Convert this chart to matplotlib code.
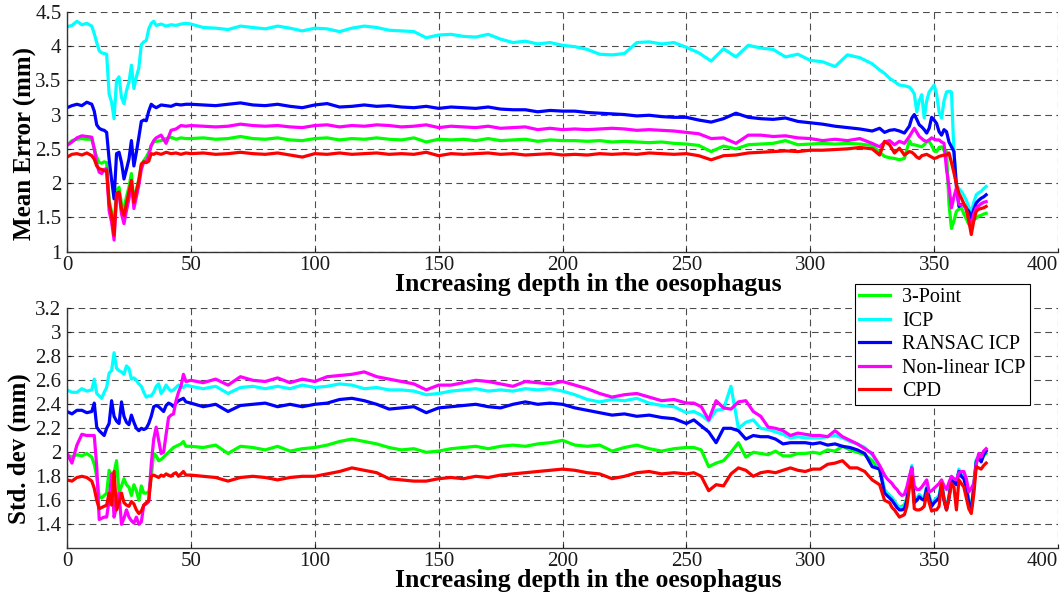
import matplotlib
matplotlib.use("Agg")
import matplotlib.pyplot as plt
from matplotlib.ticker import FuncFormatter
import numpy as np

plt.rcParams["font.family"] = ["Liberation Serif", "DejaVu Serif"]

labels = ["3-Point", "ICP", "RANSAC ICP", "Non-linear ICP", "CPD"]
colors = ["#00ff00", "#00ffff", "#0000ff", "#ff00ff", "#ff0000"]

# ---- top panel: mean error ----
depth_top = [0, 2, 4, 6, 8, 10, 11, 12, 13, 14, 15, 16, 17, 18, 19, 20, 21, 22, 23, 24, 25, 26, 27, 28, 29,
             30, 31, 32, 33, 34, 35, 36, 38, 40, 42, 44, 46, 48,
             50, 55, 60, 65, 70, 75, 80, 85, 90, 95, 100, 105, 110, 115, 120, 125, 130, 135, 140, 145, 150,
             155, 160, 165, 170, 175, 180, 185, 190, 195, 200, 205, 210, 215, 220, 225, 230, 235, 240, 245,
             250, 255, 260, 265, 270, 275, 280, 285, 290, 295, 300, 305, 310, 315, 320, 325,
             328, 330, 332, 334, 336, 338, 340, 341, 342, 343, 344, 345, 346, 347, 348, 349, 350, 351, 352,
             353, 354, 355, 356, 357, 358, 359, 360, 361, 362, 363, 364, 365, 366, 367, 368, 369, 370, 371]

mean_3pt = [2.55, 2.62, 2.64, 2.65, 2.64, 2.64, 2.50, 2.38, 2.30, 2.29, 2.31, 2.30, 1.75, 1.58, 1.38, 1.90, 1.94, 1.70, 1.63, 1.80, 1.94, 2.14, 1.72, 1.90, 2.06,
            2.25, 2.33, 2.38, 2.45, 2.55, 2.60, 2.61, 2.62, 2.65, 2.67, 2.64, 2.66, 2.65,
            2.65, 2.66, 2.64, 2.65, 2.68, 2.65, 2.64, 2.66, 2.63, 2.62, 2.65, 2.66, 2.63, 2.65, 2.64, 2.66, 2.64, 2.63, 2.66, 2.60, 2.64,
            2.63, 2.64, 2.62, 2.65, 2.62, 2.63, 2.64, 2.61, 2.63, 2.62, 2.62, 2.61, 2.62, 2.60, 2.61, 2.60, 2.59, 2.60, 2.58,
            2.57, 2.55, 2.46, 2.54, 2.50, 2.56, 2.57, 2.58, 2.62, 2.56, 2.57, 2.58, 2.57, 2.58, 2.57, 2.55,
            2.45, 2.39, 2.37, 2.36, 2.34, 2.36, 2.62, 2.56, 2.56, 2.55, 2.54, 2.53, 2.56, 2.60, 2.61, 2.55, 2.47, 2.46, 2.52,
            2.53, 2.48, 2.46, 1.69, 1.34, 1.45, 1.59, 1.62, 1.64, 1.55, 1.48, 1.40, 1.42, 1.46, 1.49, 1.52, 1.53, 1.55, 1.56]

mean_icp = [4.28, 4.30, 4.36, 4.31, 4.33, 4.29, 4.18, 4.05, 3.93, 3.90, 3.89, 3.88, 3.30, 3.18, 2.94, 3.50, 3.55, 3.25, 3.16, 3.35, 3.47, 3.72, 3.38, 3.55, 3.68,
            4.02, 4.06, 4.08, 4.25, 4.33, 4.36, 4.30, 4.32, 4.29, 4.31, 4.30, 4.32, 4.33,
            4.32, 4.27, 4.26, 4.24, 4.29, 4.27, 4.25, 4.29, 4.26, 4.22, 4.26, 4.25, 4.21, 4.26, 4.29, 4.27, 4.23, 4.22, 4.21, 4.12, 4.16,
            4.17, 4.14, 4.13, 4.17, 4.10, 4.05, 4.07, 4.03, 4.05, 4.01, 3.99, 3.95, 3.88, 3.87, 3.89, 4.05, 4.06, 4.03, 4.05,
            3.98, 3.90, 3.78, 3.96, 3.84, 4.01, 3.97, 3.95, 3.84, 3.88, 3.79, 3.77, 3.70, 3.87, 3.83, 3.74,
            3.65, 3.60, 3.53, 3.48, 3.43, 3.42, 3.40, 3.36, 3.30, 3.04, 3.20, 3.29, 2.95, 3.20, 3.33, 3.38, 3.43, 3.30, 3.04,
            2.95, 3.20, 3.33, 3.34, 3.33, 2.45, 1.98, 1.92, 1.88, 1.82, 1.75, 1.65, 1.59, 1.72, 1.83, 1.86, 1.88, 1.92, 1.95]

mean_ransac = [3.10, 3.13, 3.15, 3.13, 3.18, 3.15, 3.05, 2.85, 2.80, 2.78, 2.77, 2.74, 2.35, 2.05, 1.77, 2.43, 2.45, 2.30, 2.06, 2.20, 2.35, 2.62, 2.25, 2.45, 2.67,
               2.90, 2.92, 2.91, 3.05, 3.15, 3.12, 3.10, 3.14, 3.13, 3.12, 3.15, 3.14, 3.15,
               3.15, 3.14, 3.13, 3.15, 3.17, 3.14, 3.13, 3.15, 3.12, 3.10, 3.14, 3.16, 3.11, 3.12, 3.14, 3.12, 3.13, 3.11, 3.10, 3.12, 3.09,
               3.11, 3.10, 3.09, 3.11, 3.08, 3.07, 3.07, 3.04, 3.06, 3.05, 3.05, 3.03, 3.02, 3.01, 3.00, 2.98, 2.99, 2.97, 2.96,
               2.96, 2.92, 2.89, 2.94, 3.02, 2.96, 2.94, 2.93, 2.95, 2.90, 2.88, 2.86, 2.83, 2.81, 2.79, 2.76,
               2.80, 2.74, 2.77, 2.78, 2.76, 2.73, 2.83, 2.95, 3.00, 2.93, 2.85, 2.82, 2.78, 2.73, 2.80, 2.96, 2.92, 2.87, 2.75,
               2.70, 2.78, 2.75, 2.60, 2.53, 2.46, 1.95, 1.66, 1.69, 1.68, 1.63, 1.59, 1.49, 1.62, 1.71, 1.75, 1.78, 1.80, 1.83]

mean_nonlin = [2.55, 2.60, 2.66, 2.69, 2.68, 2.67, 2.50, 2.28, 2.16, 2.14, 2.20, 2.21, 1.60, 1.43, 1.17, 1.80, 1.85, 1.55, 1.41, 1.60, 1.77, 2.01, 1.63, 1.80, 1.97,
               2.20, 2.31, 2.30, 2.40, 2.55, 2.62, 2.66, 2.70, 2.58, 2.77, 2.79, 2.84, 2.83,
               2.84, 2.83, 2.82, 2.83, 2.86, 2.84, 2.83, 2.84, 2.82, 2.81, 2.84, 2.85, 2.82, 2.84, 2.83, 2.85, 2.84, 2.82, 2.83, 2.85, 2.81,
               2.83, 2.82, 2.81, 2.83, 2.80, 2.81, 2.82, 2.78, 2.80, 2.78, 2.79, 2.78, 2.79, 2.80, 2.79, 2.77, 2.78, 2.77, 2.76,
               2.74, 2.72, 2.65, 2.66, 2.58, 2.70, 2.70, 2.68, 2.69, 2.66, 2.65, 2.62, 2.64, 2.62, 2.65, 2.58,
               2.53, 2.60, 2.62, 2.56, 2.61, 2.58, 2.68, 2.74, 2.80, 2.74, 2.68, 2.65, 2.62, 2.61, 2.63, 2.66, 2.64, 2.63, 2.63,
               2.60, 2.58, 2.20, 1.95, 1.64, 1.80, 1.93, 1.69, 1.68, 1.69, 1.60, 1.48, 1.40, 1.55, 1.64, 1.67, 1.70, 1.72, 1.73]

mean_cpd = [2.38, 2.42, 2.43, 2.41, 2.44, 2.40, 2.35, 2.25, 2.21, 2.20, 2.18, 2.19, 1.70, 1.53, 1.24, 1.85, 1.87, 1.62, 1.53, 1.70, 1.87, 2.04, 1.72, 1.88, 2.04,
            2.28, 2.31, 2.30, 2.32, 2.43, 2.42, 2.44, 2.42, 2.45, 2.43, 2.44, 2.42, 2.44,
            2.43, 2.44, 2.42, 2.43, 2.45, 2.43, 2.42, 2.44, 2.41, 2.38, 2.43, 2.42, 2.44, 2.42, 2.43, 2.44, 2.42, 2.43, 2.42, 2.45, 2.40,
            2.43, 2.42, 2.43, 2.44, 2.42, 2.43, 2.41, 2.42, 2.43, 2.41, 2.42, 2.41, 2.43, 2.42, 2.43, 2.42, 2.44, 2.43, 2.42,
            2.43, 2.40, 2.34, 2.40, 2.41, 2.44, 2.45, 2.46, 2.47, 2.46, 2.48, 2.48, 2.49, 2.50, 2.52, 2.50,
            2.41, 2.61, 2.56, 2.44, 2.51, 2.41, 2.46, 2.45, 2.42, 2.38, 2.36, 2.40, 2.41, 2.42, 2.40, 2.38, 2.36, 2.37, 2.39,
            2.40, 2.41, 2.41, 2.44, 2.30, 2.15, 1.98, 1.85, 1.78, 1.70, 1.64, 1.45, 1.25, 1.45, 1.59, 1.62, 1.63, 1.64, 1.66]

# ---- bottom panel: std dev ----
depth_bot = [0, 2, 4, 6, 8, 10, 11, 12, 13, 14, 15, 16, 17, 18, 19, 20, 21, 22, 23, 24, 25, 26, 27, 28, 29,
             30, 31, 32, 33, 34, 35, 36, 37, 38, 39, 40, 41, 42, 43, 44, 45, 46, 47, 48,
             50, 55, 60, 65, 70, 75, 80, 85, 90, 95, 100, 105, 110, 115, 120, 125, 130, 135, 140, 145, 150,
             155, 160, 165, 170, 175, 180, 185, 190, 195, 200, 205, 210, 215, 220, 225, 230, 235, 240, 245, 250,
             253, 256, 259, 262, 265, 268, 271, 274, 277, 280, 283, 286, 289, 292, 295, 298, 301, 304, 307,
             310, 313, 316, 319, 322, 325, 328,
             330, 331, 332, 333, 334, 335, 336, 337, 338, 339, 340, 341, 342, 343, 344, 345, 346, 347, 348, 349,
             350, 351, 352, 353, 354, 355, 356, 357, 358, 359, 360, 361, 362, 363, 364, 365, 366, 367, 368, 369,
             370, 371]

std_3pt = [1.98, 1.96, 1.98, 1.97, 1.99, 1.96, 1.90, 1.80, 1.63, 1.62, 1.64, 1.66, 1.85, 1.80, 1.83, 1.93, 1.66, 1.72, 1.78, 1.73, 1.71, 1.64, 1.73, 1.68, 1.60,
           1.72, 1.66, 1.66, 1.67, 1.80, 1.99, 1.97, 1.93, 1.94, 1.96, 1.98, 2.00, 2.02, 2.04, 2.05, 2.06, 2.07, 2.09, 2.05,
           2.05, 2.04, 2.06, 1.99, 2.05, 2.04, 2.02, 2.05, 2.01, 2.03, 2.04, 2.06, 2.09, 2.11, 2.09, 2.07, 2.04, 2.02, 2.03, 2.00, 2.01,
           2.03, 2.04, 2.05, 2.03, 2.05, 2.06, 2.05, 2.07, 2.08, 2.10, 2.06, 2.05, 2.06, 2.01, 2.04, 2.06, 2.03, 2.01, 2.03, 2.04,
           2.04, 2.02, 1.88, 1.91, 1.93, 2.00, 2.08, 1.96, 2.00, 1.99, 1.98, 2.01, 1.97, 1.97, 1.99, 1.99, 2.00, 1.99, 2.02,
           2.01, 2.05, 2.02, 2.00, 1.98, 1.93, 1.85,
           1.68, 1.66, 1.64, 1.62, 1.59, 1.56, 1.54, 1.55, 1.56, 1.62, 1.76, 1.86, 1.59, 1.61, 1.64, 1.62, 1.61, 1.71, 1.63, 1.56,
           1.59, 1.61, 1.63, 1.74, 1.61, 1.53, 1.63, 1.78, 1.76, 1.74, 1.84, 1.81, 1.79, 1.71, 1.59, 1.53, 1.71, 1.93, 1.95, 1.93,
           1.97, 1.99]

std_icp = [2.52, 2.50, 2.50, 2.53, 2.51, 2.52, 2.61, 2.49, 2.47, 2.45, 2.50, 2.54, 2.66, 2.68, 2.83, 2.70, 2.68, 2.67, 2.65, 2.72, 2.70, 2.61, 2.62, 2.60, 2.57,
           2.55, 2.50, 2.46, 2.47, 2.47, 2.50, 2.55, 2.57, 2.49, 2.52, 2.56, 2.53, 2.51, 2.52, 2.54, 2.56, 2.55, 2.54, 2.56,
           2.55, 2.53, 2.55, 2.49, 2.54, 2.55, 2.53, 2.55, 2.53, 2.56, 2.54, 2.55, 2.57, 2.56, 2.53, 2.54, 2.52, 2.52, 2.51, 2.48, 2.49,
           2.51, 2.52, 2.53, 2.51, 2.52, 2.51, 2.53, 2.52, 2.53, 2.51, 2.48, 2.44, 2.42, 2.44, 2.43, 2.45, 2.41, 2.39, 2.38, 2.33,
           2.34, 2.31, 2.26, 2.35, 2.36, 2.55, 2.20, 2.25, 2.27, 2.20, 2.19, 2.17, 2.15, 2.12, 2.13, 2.12, 2.12, 2.12, 2.13,
           2.14, 2.12, 2.09, 2.07, 2.04, 1.98, 1.88,
           1.69, 1.66, 1.64, 1.62, 1.59, 1.56, 1.54, 1.54, 1.55, 1.62, 1.77, 1.89, 1.60, 1.62, 1.65, 1.63, 1.62, 1.72, 1.64, 1.57,
           1.60, 1.62, 1.64, 1.75, 1.62, 1.54, 1.64, 1.79, 1.77, 1.75, 1.86, 1.82, 1.80, 1.72, 1.60, 1.54, 1.72, 1.94, 1.97, 1.94,
           1.99, 2.02]

std_ransac = [2.34, 2.32, 2.35, 2.35, 2.33, 2.34, 2.41, 2.21, 2.18, 2.16, 2.14, 2.20, 2.24, 2.43, 2.30, 2.26, 2.24, 2.42, 2.30, 2.25, 2.23, 2.31, 2.25, 2.20, 2.18,
              2.20, 2.19, 2.20, 2.24, 2.30, 2.38, 2.39, 2.38, 2.36, 2.34, 2.39, 2.41, 2.40, 2.38, 2.41, 2.43, 2.44, 2.45, 2.42,
              2.41, 2.38, 2.40, 2.34, 2.39, 2.40, 2.41, 2.38, 2.40, 2.38, 2.40, 2.41, 2.44, 2.45, 2.43, 2.40, 2.36, 2.37, 2.38, 2.33, 2.37,
              2.38, 2.39, 2.40, 2.38, 2.37, 2.40, 2.42, 2.40, 2.41, 2.40, 2.37, 2.35, 2.33, 2.31, 2.32, 2.30, 2.31, 2.29, 2.28, 2.24,
              2.27, 2.22, 2.17, 2.08, 2.20, 2.20, 2.18, 2.11, 2.14, 2.13, 2.13, 2.11, 2.07, 2.08, 2.08, 2.08, 2.07, 2.08, 2.06,
              2.07, 2.05, 2.04, 2.02, 1.99, 1.88, 1.86,
              1.66, 1.64, 1.62, 1.60, 1.57, 1.54, 1.52, 1.52, 1.53, 1.60, 1.75, 1.87, 1.58, 1.60, 1.63, 1.61, 1.60, 1.70, 1.62, 1.55,
              1.58, 1.60, 1.62, 1.73, 1.60, 1.52, 1.62, 1.77, 1.75, 1.73, 1.84, 1.80, 1.78, 1.70, 1.58, 1.52, 1.70, 1.92, 1.96, 1.92,
              1.98, 2.01]

std_nonlin = [1.99, 1.91, 2.06, 2.15, 2.14, 2.14, 2.14, 1.88, 1.44, 1.45, 1.46, 1.46, 1.60, 1.82, 1.46, 1.55, 1.66, 1.40, 1.45, 1.52, 1.46, 1.43, 1.41, 1.46, 1.40,
              1.42, 1.56, 1.57, 1.59, 1.90, 2.11, 2.21, 2.10, 1.99, 2.00, 2.15, 2.29, 2.31, 2.32, 2.43, 2.50, 2.55, 2.65, 2.59,
              2.60, 2.58, 2.61, 2.56, 2.63, 2.60, 2.59, 2.62, 2.58, 2.61, 2.59, 2.63, 2.64, 2.65, 2.67, 2.63, 2.61, 2.59, 2.57, 2.52, 2.56,
              2.56, 2.58, 2.60, 2.59, 2.57, 2.55, 2.59, 2.58, 2.57, 2.59, 2.56, 2.53, 2.49, 2.46, 2.48, 2.49, 2.46, 2.43, 2.44, 2.41,
              2.41, 2.38, 2.27, 2.43, 2.37, 2.36, 2.42, 2.43, 2.34, 2.30, 2.21, 2.20, 2.18, 2.14, 2.16, 2.15, 2.14, 2.14, 2.13,
              2.18, 2.13, 2.10, 2.07, 2.03, 1.99, 1.89,
              1.81, 1.78, 1.76, 1.74, 1.71, 1.69, 1.66, 1.64, 1.65, 1.71, 1.80, 1.87, 1.72, 1.69, 1.69, 1.71, 1.74, 1.77, 1.67, 1.68,
              1.70, 1.72, 1.74, 1.77, 1.72, 1.69, 1.75, 1.80, 1.78, 1.77, 1.83, 1.84, 1.84, 1.78, 1.67, 1.70, 1.74, 1.90, 1.99, 1.96,
              2.01, 2.03]

std_cpd = [1.77, 1.76, 1.79, 1.80, 1.79, 1.76, 1.70, 1.60, 1.53, 1.54, 1.55, 1.56, 1.66, 1.56, 1.84, 1.52, 1.58, 1.66, 1.58, 1.56, 1.55, 1.59, 1.57, 1.52, 1.49,
           1.51, 1.56, 1.58, 1.60, 1.80, 1.81, 1.80, 1.79, 1.81, 1.80, 1.82, 1.81, 1.80, 1.82, 1.83, 1.80, 1.82, 1.84, 1.81,
           1.81, 1.80, 1.79, 1.76, 1.79, 1.80, 1.79, 1.77, 1.79, 1.80, 1.80, 1.82, 1.84, 1.87, 1.85, 1.83, 1.78, 1.77, 1.76, 1.76, 1.78,
           1.79, 1.78, 1.80, 1.79, 1.81, 1.82, 1.83, 1.84, 1.85, 1.86, 1.85, 1.83, 1.82, 1.78, 1.80, 1.83, 1.84, 1.82, 1.83, 1.82,
           1.83, 1.80, 1.68, 1.73, 1.72, 1.82, 1.87, 1.85, 1.80, 1.83, 1.84, 1.83, 1.85, 1.87, 1.85, 1.84, 1.86, 1.86, 1.90,
           1.91, 1.93, 1.87, 1.87, 1.84, 1.77, 1.73,
           1.60, 1.59, 1.58, 1.54, 1.52, 1.49, 1.46, 1.47, 1.48, 1.55, 1.70, 1.80, 1.53, 1.52, 1.52, 1.53, 1.55, 1.66, 1.58, 1.51,
           1.52, 1.52, 1.55, 1.74, 1.60, 1.52, 1.62, 1.74, 1.71, 1.52, 1.77, 1.74, 1.71, 1.62, 1.53, 1.49, 1.65, 1.88, 1.87, 1.86,
           1.89, 1.91]

mean_series = [mean_3pt, mean_icp, mean_ransac, mean_nonlin, mean_cpd]
std_series = [std_3pt, std_icp, std_ransac, std_nonlin, std_cpd]

W, H = 1064, 596
fig = plt.figure(figsize=(W / 100, H / 100), dpi=100)
ax1 = fig.add_axes([67 / W, 1 - 251.7 / H, (1058 - 67) / W, 240 / H])
ax2 = fig.add_axes([67 / W, 1 - 548.3 / H, (1058 - 67) / W, 240 / H])

fmt = FuncFormatter(lambda v, p: f"{v:g}")
grid_kw = dict(color="0.3", linewidth=0.8, linestyle=(0, (6, 4)))


def style_axes(ax, yticks, ylim):
    ax.set_xlim(0, 400)
    ax.set_ylim(*ylim)
    ax.set_xticks(np.arange(0, 401, 50))
    ax.set_yticks(yticks)
    ax.xaxis.set_major_formatter(fmt)
    ax.yaxis.set_major_formatter(fmt)
    ax.grid(True, **grid_kw)
    ax.set_axisbelow(True)
    for s in ["top", "right"]:
        ax.spines[s].set_visible(False)
    for s in ["left", "bottom"]:
        ax.spines[s].set_linewidth(1.0)
        ax.spines[s].set_color("0.2")
    ax.tick_params(direction="in", length=3, width=0.8, labelsize=15, colors="0.1")
    ax.tick_params(axis="x", pad=3)
    ax.tick_params(axis="y", pad=4)
    # last x label sits inside the figure edge, as in the original
    ax.get_xticklabels()[-1].set_horizontalalignment("right")


lines = []
for vals, c, lab in zip(mean_series, colors, labels):
    (ln,) = ax1.plot(depth_top, vals, color=c, linewidth=2.3, label=lab, solid_joinstyle="round")
    lines.append(ln)
for vals, c in zip(std_series, colors):
    ax2.plot(depth_bot, vals, color=c, linewidth=2.3, solid_joinstyle="round")

style_axes(ax1, np.round(np.arange(1, 4.51, 0.5), 1), (1, 4.5))
style_axes(ax2, np.round(np.arange(1.4, 3.21, 0.2), 1), (1.2, 3.2))

xlab_kw = dict(fontsize=18.5, fontweight="bold", color="black")
ylab_kw = dict(fontsize=18, fontweight="bold", color="black")
fig.text(588 / W, 1 - 285 / H, "Increasing depth in the oesophagus", ha="center", va="center", **xlab_kw)
fig.text(588 / W, 1 - 581 / H, "Increasing depth in the oesophagus", ha="center", va="center", **xlab_kw)
fig.text(25 / W, 1 - 143 / H, "Mean Error (mm)", ha="center", va="center", rotation=90, **ylab_kw)
fig.text(19 / W, 1 - 449 / H, "Std. dev (mm)", ha="center", va="center", rotation=90, **ylab_kw)

leg = fig.legend(lines, labels, loc="upper left", bbox_to_anchor=(855 / W, 1 - 284 / H),
                 fontsize=14.5, frameon=True, fancybox=False, framealpha=1,
                 edgecolor="black", handlelength=1.55, labelspacing=0.22,
                 borderpad=0.2, handletextpad=0.6, borderaxespad=0)
leg.get_frame().set_linewidth(0.8)

fig.savefig("out.png", dpi=100)
